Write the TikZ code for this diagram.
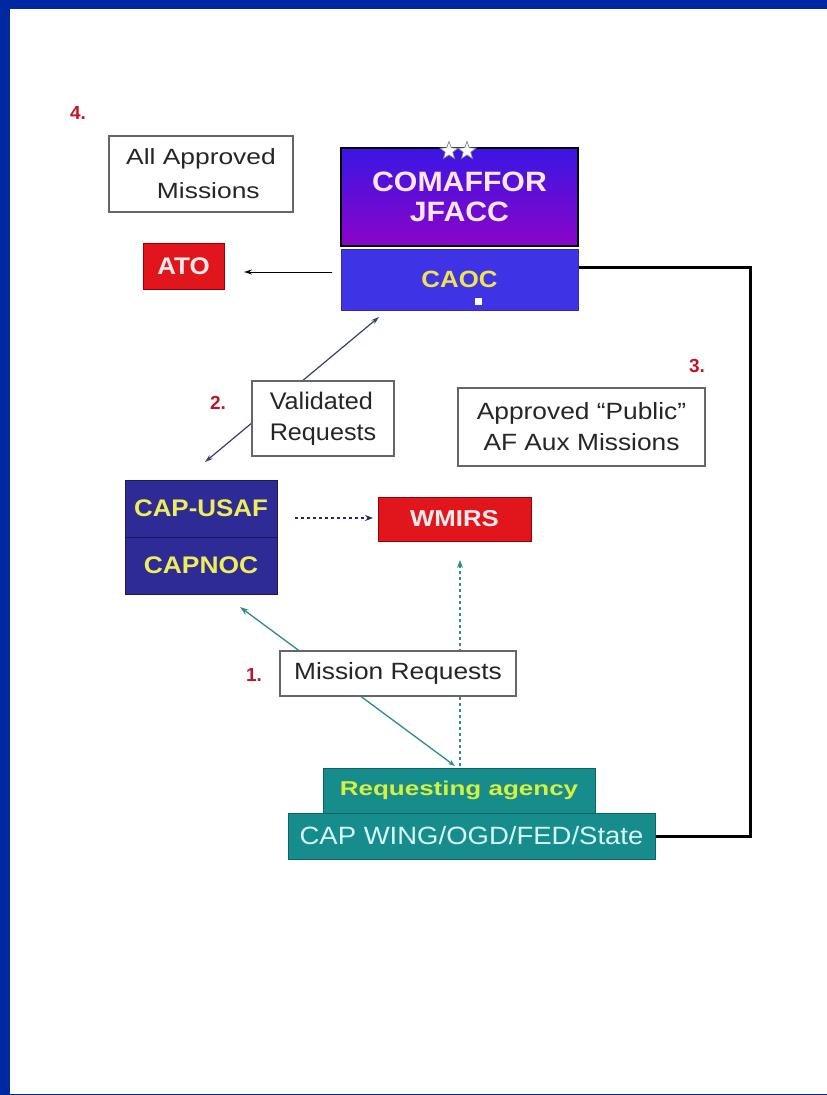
\documentclass[tikz,border=0pt]{standalone}
\usepackage{fontspec}
\setmainfont{Liberation Sans}
\usetikzlibrary{shapes.geometric,arrows.meta,calc}
\pgfdeclarelayer{bg}\pgfdeclarelayer{lines}
\pgfsetlayers{bg,lines,main}
\newcommand{\fsz}[2]{\fontsize{#1}{#2}\selectfont}
\newcommand{\hs}[2]{\scalebox{#1}[1]{#2}}
\definecolor{frameblue}{RGB}{0,40,160}
\definecolor{boxred}{RGB}{224,22,28}
\definecolor{numred}{RGB}{190,22,40}
\definecolor{comtop}{RGB}{58,22,228}
\definecolor{combot}{RGB}{140,4,200}
\definecolor{caocblue}{RGB}{62,52,230}
\definecolor{capblue}{RGB}{46,42,150}
\definecolor{tealbox}{RGB}{22,140,140}
\definecolor{txtyellow}{RGB}{238,238,90}
\definecolor{reqyellow}{RGB}{215,240,60}
\definecolor{lightcyan}{RGB}{215,250,250}
\definecolor{arrteal}{RGB}{45,140,140}
\definecolor{arrslate}{RGB}{50,62,110}
\definecolor{arrnavy}{RGB}{40,40,110}
\tikzset{
  labelbox/.style={draw=black!60, line width=1.2pt, fill=white, inner sep=0pt, text=black!85},
  redbox/.style={draw=red!60!black, line width=0.8pt, fill=boxred, inner sep=0pt, text=white!92!red, font=\bfseries},
  tealrect/.style={draw=tealbox!70!black, line width=0.8pt, fill=tealbox, inner sep=0pt},
  capbox/.style={draw=capblue!60!black, line width=0.8pt, fill=capblue, inner sep=0pt, text=txtyellow, font=\bfseries},
  numlabel/.style={text=numred, font=\bfseries\fsz{19}{19}, inner sep=0pt},
  starmark/.style={star, star points=5, star point ratio=2.4, fill=white, draw=black!50, line width=0.7pt, minimum size=19pt, inner sep=0pt},
}
\begin{document}
\begin{tikzpicture}[x=1pt,y=-1pt]
\useasboundingbox (0,0) rectangle (827,1095);
\begin{pgfonlayer}{bg}
\fill[frameblue] (0,0) rectangle (827,1095);
\fill[white] (10,9) rectangle (827,1093.5);
\end{pgfonlayer}

% top group
\node[numlabel] (n4) at (78,113) {4.};
\node[labelbox, minimum width=184pt, minimum height=76pt, align=center, font=\fsz{22}{34}] (allapp) at (201,174) {\hs{1.2}{All Approved}\\\hs{1.2}{\ \ Missions}};
\node[redbox, minimum width=81pt, minimum height=46pt, font=\bfseries\fsz{24}{24}] (ato) at (183.5,266) {\hs{1.08}{ATO}};

\node[draw=black, line width=2pt, top color=comtop, bottom color=combot, minimum width=237pt, minimum height=98pt, inner sep=0pt, align=center, text=white!90!magenta, font=\bfseries\fsz{28}{30}] (comaffor) at (459.5,197) {\hs{1.08}{COMAFFOR}\\\hs{1.08}{JFACC}};
\node[draw=caocblue!80!black, line width=0.8pt, fill=caocblue, minimum width=237pt, minimum height=61pt, inner sep=0pt, text=txtyellow!90!orange, font=\bfseries\fsz{23.5}{23.5}] (caoc) at (459.5,279.5) {\hs{1.1}{CAOC}};
\node[fill=white, minimum size=7pt, inner sep=0pt] (sq) at (478,301) {};
\node[starmark] (s1) at (449,151) {};
\node[starmark] (s2) at (467,151) {};

% middle group
\node[numlabel] (n2) at (218,403) {2.};
\node[labelbox, minimum width=142pt, minimum height=75pt, align=left, font=\fsz{24}{31}] (valid) at (323,418.5) {\hs{1.05}{Validated}\\\hs{1.05}{Requests}};
\node[numlabel] (n3) at (697,366) {3.};
\node[labelbox, minimum width=247pt, minimum height=78pt, align=center, font=\fsz{23.5}{31}] (approved) at (581.5,427) {\hs{1.12}{Approved “Public”}\\\hs{1.12}{AF Aux Missions}};

\node[capbox, minimum width=152pt, minimum height=57pt, font=\bfseries\fsz{24}{24}] (capusaf) at (201,508.5) {\hs{1.08}{CAP-USAF}};
\node[capbox, minimum width=152pt, minimum height=57pt, font=\bfseries\fsz{24}{24}] (capnoc) at (201,565.5) {\hs{1.1}{CAPNOC}};
\node[redbox, minimum width=153pt, minimum height=44pt, font=\bfseries\fsz{23}{23}] (wmirs) at (454.5,519) {\hs{1.12}{WMIRS}};

% bottom group
\node[numlabel] (n1) at (254,675) {1.};
\node[labelbox, minimum width=236pt, minimum height=45pt, font=\fsz{23.5}{23.5}] (mission) at (398,673.5) {\hs{1.12}{Mission Requests}};
\node[tealrect, minimum width=272pt, minimum height=45pt, text=reqyellow, font=\bfseries\fsz{20}{20}] (reqag) at (459,790.5) {\hs{1.3}{Requesting agency}};
\node[tealrect, minimum width=367pt, minimum height=46pt, text=lightcyan, font=\fsz{25}{25}] (capwing) at (471.5,836) {\hs{1.1}{CAP WING/OGD/FED/State}};

% connector end points
\coordinate (atoS) at (332,272);
\coordinate (atoT) at (244,272);
\coordinate (valA) at (379,317);
\coordinate (valB) at (205,462);
\coordinate (misA) at (455,766);
\coordinate (misB) at (240,607);
\coordinate (dashA) at (460,766);
\coordinate (dashB) at (460,560);
\coordinate (cwA) at (295,518);
\coordinate (cwB) at (373,518);
\coordinate (caocR) at ($(caoc.north east)!0.31!(caoc.south east)$);
\coordinate (cornerA) at (750,0);

\begin{pgfonlayer}{lines}
\draw[black, line width=1pt, -{Stealth[length=8pt,width=5pt]}] (atoS) -- (atoT);
\draw[arrslate, line width=1.2pt, {Stealth[length=8pt,width=5pt]}-{Stealth[length=8pt,width=5pt]}] (valB) -- (valA);
\draw[arrteal, line width=1.3pt, {Stealth[length=7pt,width=5pt]}-{Stealth[length=9pt,width=6pt]}] (misA) -- (misB);
\draw[arrteal, line width=1.1pt, dash pattern=on 3pt off 3pt, -{Stealth[length=8pt,width=6pt]}] (dashA) -- (dashB);
\draw[arrnavy, line width=1.1pt, dash pattern=on 3pt off 3pt, -{Stealth[length=8pt,width=6pt]}] (cwA) -- (cwB);
\draw[black, line width=3pt, line join=miter] (caocR) -- (caocR -| cornerA) -- (cornerA |- capwing.east) -- (capwing.east);
\end{pgfonlayer}
\end{tikzpicture}
\end{document}
